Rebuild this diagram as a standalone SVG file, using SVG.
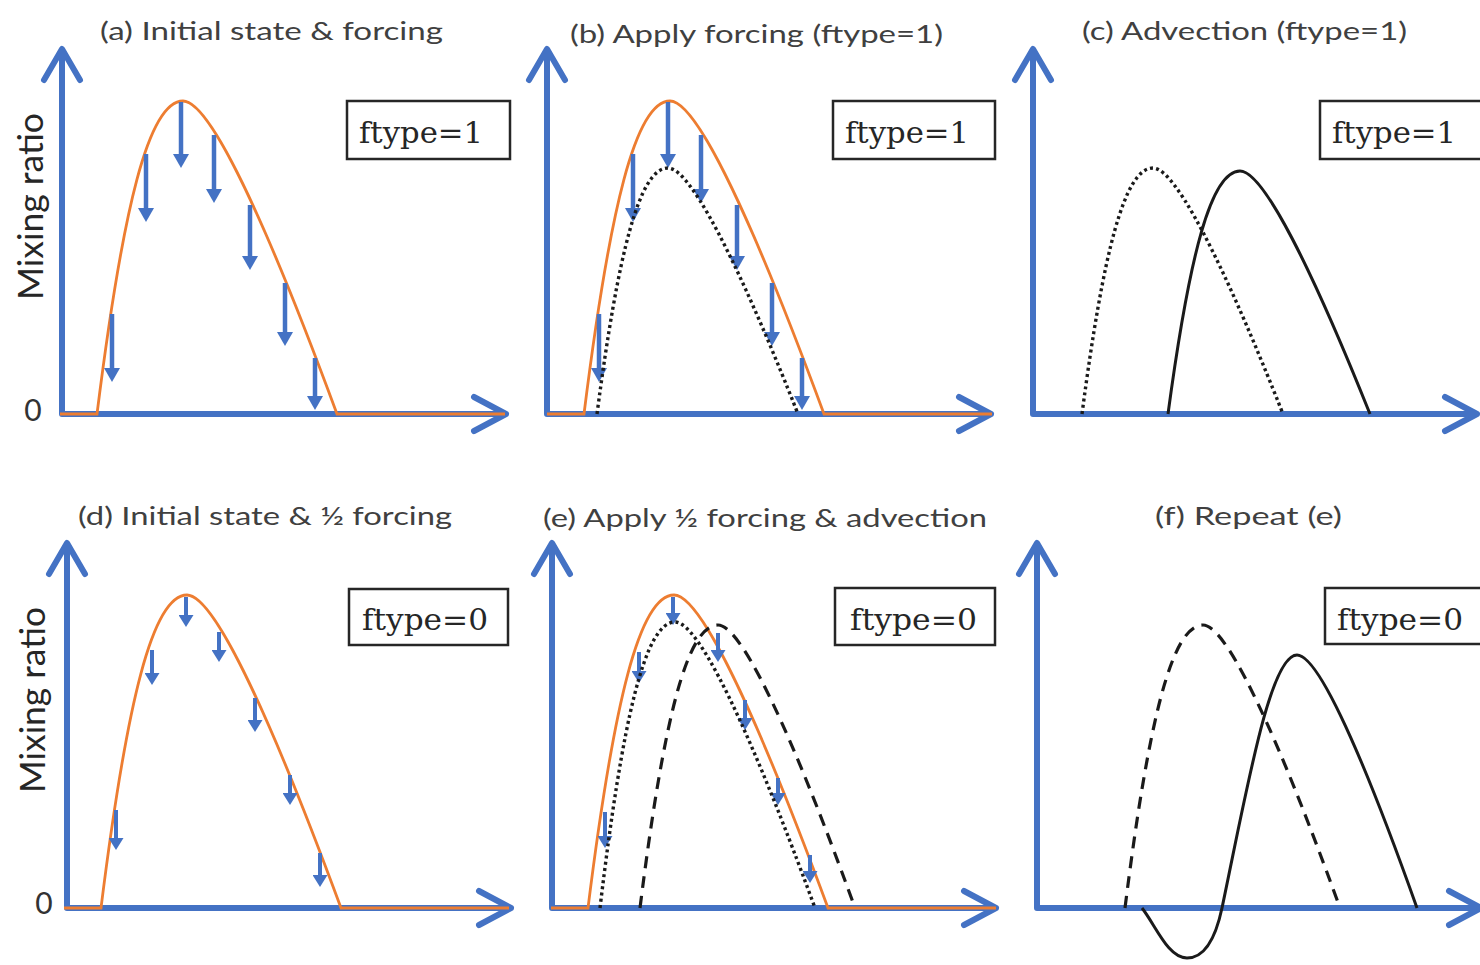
<svg xmlns="http://www.w3.org/2000/svg" width="1480" height="965" viewBox="0 0 1480 965">
<style>
.ax{fill:none;stroke:#4472C4;stroke-width:6;stroke-linecap:round;stroke-linejoin:round}
.or{fill:none;stroke:#ED7D31;stroke-width:2.8}
.fa{fill:none;stroke:#4472C4;stroke-width:4.5;marker-end:url(#ah)}
.fs{fill:none;stroke:#4472C4;stroke-width:4;marker-end:url(#ahs)}
.dot{fill:none;stroke:#1a1a1a;stroke-width:3.4;stroke-dasharray:3 3.2}
.dash{fill:none;stroke:#1a1a1a;stroke-width:3.2;stroke-dasharray:12 8}
.sol{fill:none;stroke:#1a1a1a;stroke-width:3}
.box{fill:#fff;stroke:#262626;stroke-width:2.5}
.ft{font-family:"DejaVu Serif","Liberation Serif",serif;font-size:30px;fill:#262626}
.ti{font-family:Lato,"Open Sans",sans-serif;font-size:25px;fill:#404040}
.yl{font-family:Lato,"Open Sans",sans-serif;font-size:34px;fill:#262626}
.zero{font-family:Lato,"Open Sans",sans-serif;font-size:30px;fill:#333}
</style>
<defs>
<marker id="ah" markerUnits="userSpaceOnUse" markerWidth="14" markerHeight="16" viewBox="0 0 14 16" refX="4" refY="8" orient="auto"><path d="M0,0 L14,8 L0,16 Z" fill="#4472C4"/></marker>
<marker id="ahs" markerUnits="userSpaceOnUse" markerWidth="12" markerHeight="15" viewBox="0 0 12 15" refX="3" refY="7.5" orient="auto"><path d="M0,0 L12,7.5 L0,15 Z" fill="#4472C4"/></marker>
<path id="axes" class="ax" d="M62,414 V50 M44,80 L62,49 L80,80 M62,414 H506 M474,397 L506,414 L474,431"/>
<path id="orng" class="or" d="M60,414 H97 C122.8,207.4 148.6,101 183,101 C221.5,101 313.9,351.4 337,414 H505"/>
<path id="dotb" class="dot" d="M597,414 C618.3,251.6 639.6,168 668,168 C700.5,168 778.5,364.8 798,414"/>
<path id="dashe" class="dash" d="M640,908 C663.4,721.2 686.8,625 718,625 C752.3,625 834.5,851.4 855,908"/>
<g id="bigArrows">
<path class="fa" d="M112,314 V372"/>
<path class="fa" d="M146,154 V212"/>
<path class="fa" d="M181,102 V158"/>
<path class="fa" d="M214,135 V193"/>
<path class="fa" d="M250,205 V260"/>
<path class="fa" d="M285,283 V336"/>
<path class="fa" d="M315,358 V400"/>
</g>
</defs>

<g id="panel-a">
<text class="ti" x="100" y="40" textLength="343" lengthAdjust="spacingAndGlyphs">(a) Initial state &amp; forcing</text>
<text class="yl" transform="translate(43,300) rotate(-90)" x="0" y="0" textLength="187" lengthAdjust="spacingAndGlyphs">Mixing ratio</text>
<text class="zero" x="33" y="421" text-anchor="middle">0</text>
<use href="#axes"/>
<use href="#orng"/>
<use href="#bigArrows"/>
<rect class="box" x="347" y="101" width="163" height="58"/>
<text class="ft" x="359" y="143" textLength="124" lengthAdjust="spacingAndGlyphs">ftype=1</text>
</g>

<g id="panel-b">
<text class="ti" x="570" y="43" textLength="373" lengthAdjust="spacingAndGlyphs">(b) Apply forcing (ftype=1)</text>
<use href="#axes" transform="translate(485,0)"/>
<use href="#orng" transform="translate(487,0)"/>
<use href="#bigArrows" transform="translate(487,0)"/>
<use href="#dotb"/>
<rect class="box" x="833" y="101" width="162" height="58"/>
<text class="ft" x="845" y="143" textLength="124" lengthAdjust="spacingAndGlyphs">ftype=1</text>
</g>

<g id="panel-c">
<text class="ti" x="1082" y="40" textLength="325" lengthAdjust="spacingAndGlyphs">(c) Advection (ftype=1)</text>
<use href="#axes" transform="translate(971,0)"/>
<use href="#dotb" transform="translate(485,0)"/>
<path class="sol" d="M1168,414 C1189.6,253.6 1211.2,171 1240,171 C1272.5,171 1350.5,365.4 1370,414"/>
<rect class="box" x="1320" y="101" width="163" height="58"/>
<text class="ft" x="1332" y="143" textLength="124" lengthAdjust="spacingAndGlyphs">ftype=1</text>
</g>

<g id="panel-d">
<text class="ti" x="78" y="525" textLength="374" lengthAdjust="spacingAndGlyphs">(d) Initial state &amp; ½ forcing</text>
<text class="yl" transform="translate(45,793) rotate(-90)" x="0" y="0" textLength="186" lengthAdjust="spacingAndGlyphs">Mixing ratio</text>
<text class="zero" x="44" y="914" text-anchor="middle">0</text>
<use href="#axes" transform="translate(5,494)"/>
<use href="#orng" transform="translate(4,494)"/>
<g id="arrows-d">
<path class="fs" d="M116,810 V841"/>
<path class="fs" d="M152,650 V676"/>
<path class="fs" d="M186,597 V618"/>
<path class="fs" d="M219,632 V653"/>
<path class="fs" d="M255,698 V723"/>
<path class="fs" d="M290,775 V796"/>
<path class="fs" d="M320,853 V878"/>
</g>
<rect class="box" x="349" y="589" width="159" height="56"/>
<text class="ft" x="362" y="630" textLength="126" lengthAdjust="spacingAndGlyphs">ftype=0</text>
</g>

<g id="panel-e">
<text class="ti" x="543" y="527" textLength="444" lengthAdjust="spacingAndGlyphs">(e) Apply ½ forcing &amp; advection</text>
<use href="#axes" transform="translate(490,494)"/>
<use href="#orng" transform="translate(491,494)"/>
<g id="arrows-e">
<path class="fs" d="M605,812 V839"/>
<path class="fs" d="M639,652 V674"/>
<path class="fs" d="M673,597 V616"/>
<path class="fs" d="M718,633 V653"/>
<path class="fs" d="M745,700 V721"/>
<path class="fs" d="M778,778 V796"/>
<path class="fs" d="M810,855 V874"/>
</g>
<path class="dot" d="M600,908 C622.5,719.2 645,622 675,622 C710,622 794,850.8 815,908"/>
<use href="#dashe"/>
<rect class="box" x="835" y="588" width="160" height="57"/>
<text class="ft" x="850" y="630" textLength="127" lengthAdjust="spacingAndGlyphs">ftype=0</text>
</g>

<g id="panel-f">
<text class="ti" x="1155" y="525" textLength="187" lengthAdjust="spacingAndGlyphs">(f) Repeat (e)</text>
<use href="#axes" transform="translate(975,494)"/>
<use href="#dashe" transform="translate(485,0)"/>
<path class="sol" d="M1142,908 C1156,926 1168,958 1187,958 C1203,958 1215,941 1222,908 C1247,789 1270,655 1297,655 C1327,655 1399,857.4 1417,908"/>
<rect class="box" x="1325" y="588" width="160" height="56"/>
<text class="ft" x="1337" y="630" textLength="126" lengthAdjust="spacingAndGlyphs">ftype=0</text>
</g>
</svg>
